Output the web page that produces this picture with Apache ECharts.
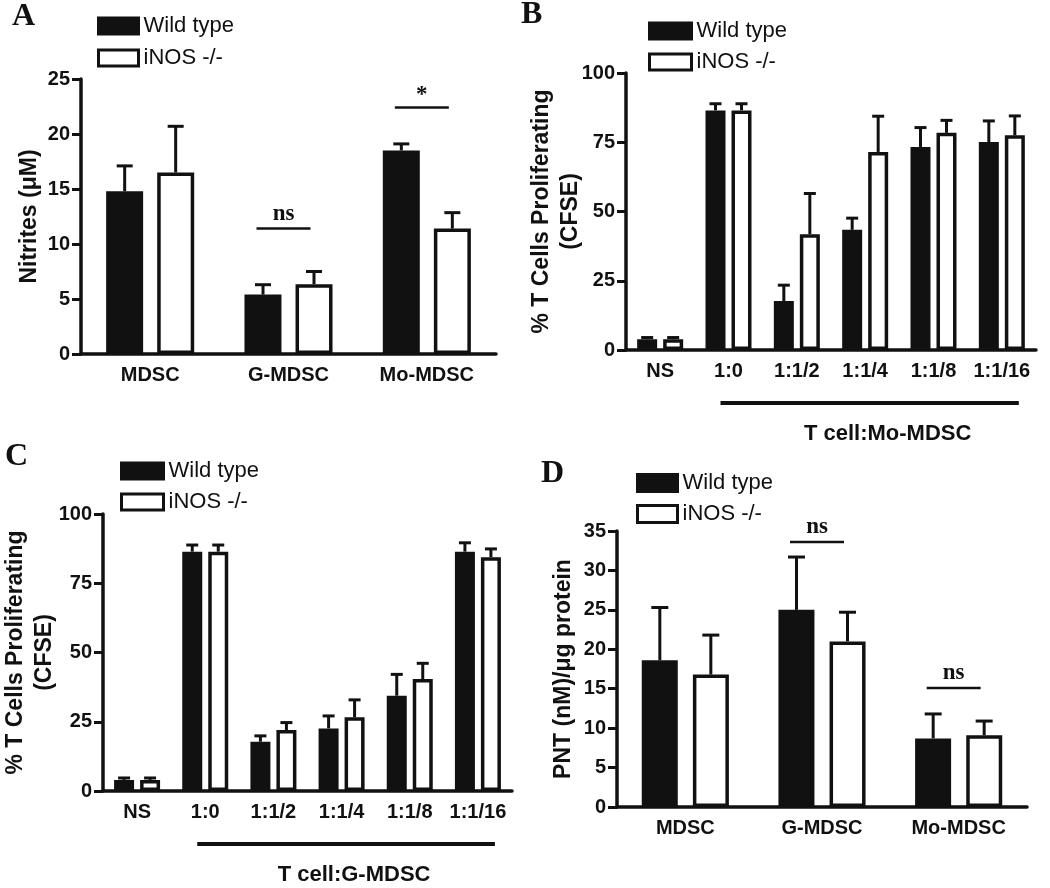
<!DOCTYPE html>
<html>
<head>
<meta charset="utf-8">
<script src="https://cdn.jsdelivr.net/npm/echarts@6/dist/echarts.min.js"></script>
<style>
html,body{margin:0;padding:0;background:#fff;}
#chart{width:1050px;height:888px;}
</style>
</head>
<body>
<div id="chart"></div>
<script>
// ---------- DATA ----------
var seriesNames = ['Wild type', 'iNOS -/-'];

// Panel A: Nitrites (uM)
var catsA = ['MDSC', 'G-MDSC', 'Mo-MDSC'];
var aWT = [14.8, 5.4, 18.5];
var aWTsem = [2.3, 0.9, 0.6];
var aKO = [16.5, 6.35, 11.4];
var aKOsem = [4.2, 1.15, 1.45];
var sigA = [[1, 11.4, 'ns'], [2, 22.4, '*']];

// Panel B: T cell : Mo-MDSC
var catsB = ['NS', '1:0', '1:1/2', '1:1/4', '1:1/8', '1:1/16'];
var bWT = [3.9, 86.5, 17.7, 43.4, 73.3, 75.1];
var bWTsem = [0.6, 2.4, 5.7, 4.2, 7.0, 7.6];
var bKO = [3.9, 86.5, 41.8, 71.5, 78.4, 77.5];
var bKOsem = [0.6, 2.4, 14.7, 12.9, 4.5, 7.0];
var bracketB = [[1, 5, 0, 'T cell:Mo-MDSC']];

// Panel C: T cell : G-MDSC
var catsC = ['NS', '1:0', '1:1/2', '1:1/4', '1:1/8', '1:1/16'];
var cWT = [4.0, 86.4, 17.8, 22.6, 34.4, 86.4];
var cWTsem = [0.7, 2.4, 2.1, 4.5, 7.7, 3.2];
var cKO = [4.0, 86.4, 22.0, 26.6, 40.4, 84.4];
var cKOsem = [0.7, 2.4, 2.7, 6.3, 5.7, 3.0];
var bracketC = [[1, 5, 0, 'T cell:G-MDSC']];

// Panel D: PNT (nM)/ug protein
var catsD = ['MDSC', 'G-MDSC', 'Mo-MDSC'];
var dWT = [18.6, 25.0, 8.7];
var dWTsem = [6.7, 6.7, 3.1];
var dKO = [16.8, 21.0, 9.1];
var dKOsem = [5.0, 3.7, 1.8];
var sigD = [[1, 33.6, 'ns'], [2, 15.1, 'ns']];

// ---------- STYLE HELPERS ----------
var INK = '#111';
var SANS = '"Liberation Sans", Arial, sans-serif';
var SERIF = '"Liberation Serif", "Times New Roman", serif';

function errData(means, sems) {
  return means.map(function (m, i) { return [i, m, m + sems[i]]; });
}
function errSeries(idx, means, sems, offset, capHalf) {
  return {
    type: 'custom', xAxisIndex: idx, yAxisIndex: idx, z: 5, silent: true,
    encode: { x: 0, y: [1, 2] },
    data: errData(means, sems),
    renderItem: function (params, api) {
      var c = api.value(0);
      var base = api.coord([c, api.value(1)]);
      var top = api.coord([c, api.value(2)]);
      var x = base[0] + offset;
      return {
        type: 'group',
        children: [
          { type: 'line', shape: { x1: x, y1: base[1], x2: x, y2: top[1] }, style: { stroke: INK, lineWidth: 3 } },
          { type: 'line', shape: { x1: x - capHalf, y1: top[1], x2: x + capHalf, y2: top[1] }, style: { stroke: INK, lineWidth: 3 } }
        ]
      };
    }
  };
}
function barSeries(idx, name, vals, width, gap) {
  var wt = name === seriesNames[0];
  return {
    type: 'bar', name: name, xAxisIndex: idx, yAxisIndex: idx,
    data: vals, barWidth: width, barGap: gap, silent: true,
    itemStyle: { color: wt ? INK : '#fff', borderColor: INK, borderWidth: 3.5 }
  };
}
function sigSeries(idx, data) {
  return {
    type: 'custom', xAxisIndex: idx, yAxisIndex: idx, z: 6, silent: true,
    encode: { x: 0, y: 1 },
    data: data,
    renderItem: function (params, api) {
      var p = api.coord([api.value(0), api.value(1)]);
      var cx = p[0] - 5;
      var label = data[params.dataIndex][2];
      return {
        type: 'group',
        children: [
          { type: 'line', shape: { x1: cx - 27, y1: p[1], x2: cx + 27, y2: p[1] }, style: { stroke: INK, lineWidth: 2.5 } },
          { type: 'text', x: cx, y: p[1] - (label === '*' ? 1 : 3),
            style: { text: label, align: 'center', verticalAlign: 'bottom', fill: INK,
                     font: 'bold 23px ' + SERIF } }
        ]
      };
    }
  };
}
function bracketSeries(idx, data, textShift) {
  return {
    type: 'custom', xAxisIndex: idx, yAxisIndex: idx, z: 6, silent: true, clip: false,
    encode: { x: [0, 1], y: 2 },
    data: data,
    renderItem: function (params, api) {
      var a = api.coord([api.value(0), api.value(2)]);
      var b = api.coord([api.value(1), api.value(2)]);
      var x1 = a[0] - 8, x2 = b[0] + 17;
      var y = a[1] + 53;
      return {
        type: 'group',
        children: [
          { type: 'line', shape: { x1: x1, y1: y, x2: x2, y2: y }, style: { stroke: INK, lineWidth: 4 } },
          { type: 'text', x: (x1 + x2) / 2 + textShift, y: a[1] + 84,
            style: { text: data[params.dataIndex][3], align: 'center', verticalAlign: 'middle',
                     fill: INK, font: 'bold 22px ' + SANS } }
        ]
      };
    }
  };
}
function xAx(idx, cats) {
  return {
    type: 'category', gridIndex: idx, data: cats,
    axisLine: { lineStyle: { color: INK, width: 3.5 } },
    axisTick: { alignWithLabel: true, length: 9, lineStyle: { color: INK, width: 3 } },
    axisLabel: { interval: 0, margin: 11, color: INK, fontSize: 20, fontWeight: 'bold', fontFamily: SANS },
    splitLine: { show: false }
  };
}
function yAx(idx, max, interval, name, gap) {
  return {
    type: 'value', gridIndex: idx, min: 0, max: max, interval: interval,
    name: name, nameLocation: 'middle', nameRotate: 90, nameGap: gap, nameMoveOverlap: false,
    nameTextStyle: { color: INK, fontSize: 23, fontWeight: 'bold', fontFamily: SANS, lineHeight: 29 },
    axisLine: { show: true, lineStyle: { color: INK, width: 3.5 } },
    axisTick: { show: true, length: 9, lineStyle: { color: INK, width: 3 } },
    axisLabel: { margin: 11, color: INK, fontSize: 20, fontWeight: 'bold', fontFamily: SANS },
    splitLine: { show: false }
  };
}
function legendAt(left, top, w, h, gap) {
  return {
    orient: 'vertical', left: left, top: top, padding: 0,
    itemWidth: w, itemHeight: h, itemGap: gap, icon: 'rect', selectedMode: false,
    textStyle: { color: INK, fontSize: 22, fontFamily: SANS, lineHeight: 22 },
    data: [
      { name: seriesNames[0], itemStyle: { color: INK, borderColor: INK, borderWidth: 3 } },
      { name: seriesNames[1], itemStyle: { color: '#fff', borderColor: INK, borderWidth: 3 } }
    ]
  };
}
function panelTitle(t, left, top) {
  return { text: t, left: left, top: top, padding: 0,
           textStyle: { fontFamily: SERIF, fontWeight: 'bold', fontSize: 32, color: INK } };
}

var chart = echarts.init(document.getElementById('chart'), null, { renderer: 'canvas' });
chart.setOption({
  animation: false,
  backgroundColor: '#fff',
  title: [
    panelTitle('A', 12, 1),
    panelTitle('B', 521, -1),
    panelTitle('C', 5, 441),
    panelTitle('D', 541, 458)
  ],
  legend: [
    legendAt(97, 15, 40, 16, 10),
    legendAt(648, 20, 42, 16, 9),
    legendAt(120, 460, 42, 16, 9),
    legendAt(636, 472, 40, 17, 9)
  ],
  grid: [
    { left: 81, top: 79, width: 415, height: 275 },
    { left: 626, top: 73, width: 410, height: 277 },
    { left: 99, top: 514, width: 413, height: 277 },
    { left: 617, top: 531, width: 410, height: 276 }
  ],
  xAxis: [xAx(0, catsA), xAx(1, catsB), xAx(2, catsC), xAx(3, catsD)],
  yAxis: [
    yAx(0, 25, 5, 'Nitrites (\u03bcM)', 37),
    yAx(1, 100, 25, '% T Cells Proliferating\n(CFSE)', 41),
    yAx(2, 100, 25, '% T Cells Proliferating\n(CFSE)', 44),
    yAx(3, 35, 5, 'PNT (nM)/\u03bcg protein', 39)
  ],
  series: [
    barSeries(0, seriesNames[0], aWT, 37, '38%'),
    barSeries(0, seriesNames[1], aKO, 37, '38%'),
    errSeries(0, aWT, aWTsem, -25.5, 8),
    errSeries(0, aKO, aKOsem, 25.5, 8),
    sigSeries(0, sigA),

    barSeries(1, seriesNames[0], bWT, 20, '30%'),
    barSeries(1, seriesNames[1], bKO, 20, '30%'),
    errSeries(1, bWT, bWTsem, -13, 6),
    errSeries(1, bKO, bKOsem, 13, 6),
    bracketSeries(1, bracketB, 18),

    barSeries(2, seriesNames[0], cWT, 20, '30%'),
    barSeries(2, seriesNames[1], cKO, 20, '30%'),
    errSeries(2, cWT, cWTsem, -13, 6),
    errSeries(2, cKO, cKOsem, 13, 6),
    bracketSeries(2, bracketC, 8),

    barSeries(3, seriesNames[0], dWT, 36, '42%'),
    barSeries(3, seriesNames[1], dKO, 36, '42%'),
    errSeries(3, dWT, dWTsem, -25.5, 8.5),
    errSeries(3, dKO, dKOsem, 25.5, 8.5),
    sigSeries(3, sigD)
  ]
});
</script>
</body>
</html>
